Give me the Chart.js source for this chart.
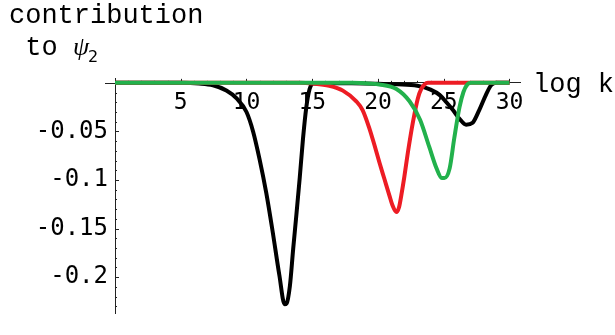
<!DOCTYPE html>
<html>
<head>
<meta charset="utf-8">
<script src="https://cdn.jsdelivr.net/npm/chart.js@4.4.1/dist/chart.umd.min.js"></script>
<style>
  html, body { margin: 0; padding: 0; background: #fff; }
  canvas { display: block; }
</style>
</head>
<body>
<canvas id="chart" width="615" height="335"></canvas>
<script>
// values
const blackX = [0, 5, 6.4, 7.45, 8.47, 9.23, 10, 10.5, 11, 11.5, 12, 12.5, 12.9, 13.05, 13.3, 13.55, 13.8, 14.05, 14.3, 14.55, 14.8, 15.05, 16, 18, 20, 21.5, 23, 24, 24.7, 25.2, 25.7, 26.2, 26.7, 27.2, 27.7, 28.2, 28.6, 29, 30];
const blackY = [0, 0, -0.0007, -0.0025, -0.0079, -0.0158, -0.030, -0.050, -0.079, -0.113, -0.154, -0.198, -0.228, -0.227, -0.209, -0.171, -0.135, -0.0975, -0.057, -0.025, -0.0063, -0.0007, -0.0004, -0.0005, -0.001, -0.0015, -0.003, -0.007, -0.0126, -0.02, -0.028, -0.037, -0.043, -0.041, -0.028, -0.0126, -0.0025, 0, 0];

const redX = [0, 14, 15.05, 16.3, 17.33, 18.35, 18.83, 19.35, 19.73, 20.11, 20.49, 20.87, 21.1, 21.4, 21.6, 21.77, 22.0, 22.27, 22.65, 23.03, 23.3, 23.54, 23.8, 30];
const redY = [0, 0, -0.0007, -0.003, -0.008, -0.019, -0.028, -0.047, -0.064, -0.082, -0.099, -0.116, -0.126, -0.133, -0.128, -0.116, -0.097, -0.072, -0.041, -0.016, -0.006, -0.0016, 0, 0];

const greenX = [0, 18, 19, 20.1, 21.4, 22.4, 23.2, 23.9, 24.45, 24.85, 25.05, 25.45, 25.8, 26.2, 26.5, 26.8, 27.1, 30];
const greenY = [0, 0, -0.0005, -0.0016, -0.0063, -0.019, -0.038, -0.066, -0.088, -0.098, -0.098, -0.088, -0.057, -0.025, -0.0094, -0.0016, 0, 0];

const xTicks = [5, 10, 15, 20, 25, 30];
const yTicks = [0, -0.05, -0.1, -0.15, -0.2];
const yTickLabels = ["", "-0.05", "-0.1", "-0.15", "-0.2"];

function points(xs, ys) {
  return xs.map(function (x, i) {
    return { x: x, y: ys[i] };
  });
}

const labelFont = '27px "Liberation Mono"';

// small ticks (Mathematica style) drawn under the curves, plus the texts
const marks = {
  id: "marks",
  beforeDatasetsDraw(chart) {
    const ctx = chart.ctx;
    const xs = chart.scales.x;
    const ys = chart.scales.y;
    const x0 = xs.getPixelForValue(0);
    const y0 = ys.getPixelForValue(0);
    ctx.save();
    ctx.strokeStyle = "#222";
    ctx.lineWidth = 1;
    ctx.beginPath();
    // x ticks
    for (let v = 1; v <= 30; v++) {
      const px = Math.round(xs.getPixelForValue(v)) + 0.5;
      const len = v % 5 === 0 ? 4 : 2;
      ctx.moveTo(px, y0);
      ctx.lineTo(px, y0 - len);
    }
    // y ticks
    for (let k = 1; k <= 23; k++) {
      const py = Math.round(ys.getPixelForValue(-k / 100)) + 0.5;
      const len = k % 5 === 0 ? 4 : 2;
      ctx.moveTo(x0, py);
      ctx.lineTo(x0 + len, py);
    }
    // zero tick on the left of the y axis
    ctx.moveTo(x0 - 10, Math.round(y0) + 0.5);
    ctx.lineTo(x0, Math.round(y0) + 0.5);
    ctx.stroke();
    ctx.restore();
  },
  afterDraw(chart) {
    const ctx = chart.ctx;
    ctx.save();
    ctx.fillStyle = "#000";
    ctx.textBaseline = "alphabetic";
    ctx.font = labelFont;
    ctx.fillText("contribution", 9, 23);
    ctx.fillText(" to ", 9, 55);
    ctx.font = 'italic 26px "Liberation Serif"';
    ctx.fillText("ψ", 73, 55);
    ctx.font = '16px "DejaVu Sans"';
    ctx.fillText("2", 88, 62);
    ctx.font = labelFont;
    ctx.fillText("log k", 533, 92);
    ctx.restore();
  },
};

const config = {
  type: "line",
  data: {
    datasets: [
      {
        label: "black",
        data: points(blackX, blackY),
        borderColor: "#000000",
        order: 2,
      },
      {
        label: "red",
        data: points(redX, redY),
        borderColor: "#ed1c24",
        order: 1,
      },
      {
        label: "green",
        data: points(greenX, greenY),
        borderColor: "#22b14c",
        order: 0,
      },
    ],
  },
  options: {
    responsive: false,
    animation: false,
    layout: {
      padding: { top: 78, right: 95, bottom: 0, left: 0 },
    },
    elements: {
      point: { radius: 0 },
      line: { borderWidth: 4, cubicInterpolationMode: "monotone", fill: false },
    },
    plugins: {
      legend: { display: false },
      title: { display: false },
      tooltip: { enabled: false },
    },
    scales: {
      x: {
        type: "linear",
        position: { y: 0 },
        min: 0,
        max: 30.8,
        afterBuildTicks: function (s) {
          s.ticks = xTicks.map(function (v) {
            return { value: v };
          });
        },
        grid: { display: false, drawTicks: false },
        border: { display: true, color: "#222", width: 1 },
        ticks: {
          autoSkip: false,
          maxRotation: 0,
          padding: 6,
          color: "#000",
          font: { family: "DejaVu Sans Mono", size: 23 },
        },
      },
      y: {
        type: "linear",
        position: "left",
        min: -0.2375,
        max: 0.005,
        afterFit: function (s) {
          s.width = 115;
        },
        afterBuildTicks: function (s) {
          s.ticks = yTicks.map(function (v) {
            return { value: v };
          });
        },
        grid: { display: false, drawTicks: false },
        border: { display: true, color: "#222", width: 1 },
        ticks: {
          autoSkip: false,
          padding: 7,
          color: "#000",
          font: { family: "DejaVu Sans Mono", size: 24 },
          callback: function (v, i) {
            return yTickLabels[i];
          },
        },
      },
    },
  },
  plugins: [marks],
};

new Chart(document.getElementById("chart"), config);
</script>
</body>
</html>
